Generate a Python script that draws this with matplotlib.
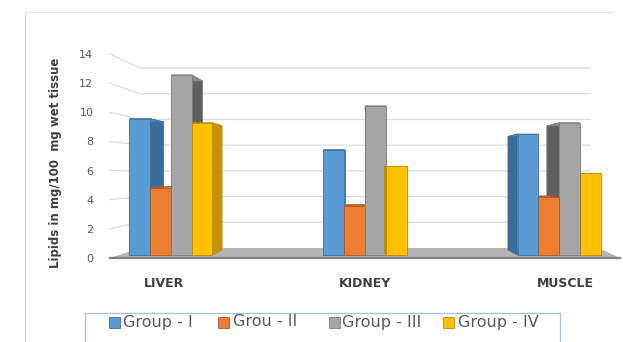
import matplotlib
matplotlib.use('Agg')
import matplotlib.pyplot as plt
from matplotlib.patches import Polygon, Rectangle

# 데이터
organs = ['LIVER', 'KIDNEY', 'MUSCLE']
groups = ['Group - I', 'Grou - II', 'Group - III', 'Group - IV']
group_1 = [9.7, 7.5, 8.6]
group_2 = [4.8, 3.5, 4.1]
group_3 = [12.8, 10.6, 9.4]
group_4 = [9.4, 6.3, 5.8]
y_ticks = [0, 2, 4, 6, 8, 10, 12, 14]

series = [group_1, group_2, group_3, group_4]
front_cols = ['#5b9bd5', '#ed7d31', '#a5a5a5', '#ffc000']
side_cols = ['#3b6b9b', '#b35a1f', '#5f5f5f', '#c29200']
top_cols = ['#4a86c0', '#c9621f', '#8c8c8c', '#d9a400']
edge_cols = ['#41719c', '#ae5a21', '#7b7b7b', '#bc8c00']

# 원근 효과 (소실점 = 가운데 카테고리)
XV, YV, K = 1.0, 5.83, 0.118
Z0, Z1 = 0.28, 0.8
X_LO, X_HI = -0.27, 2.27
BAR_W = 0.107


def proj(x, y, z):
    s = 1 - K * z
    return XV + (x - XV) * s, YV + (y - YV) * s


fig = plt.figure(figsize=(6.23, 3.42), dpi=100)
ax = fig.add_axes([110 / 623, 84 / 342, 510 / 623, 204 / 342])
ax.set_xlim(X_LO, X_HI)
ax.set_ylim(0, 14)
for sp in ax.spines.values():
    sp.set_visible(False)

# 벽 격자선
for t in y_ticks[1:]:
    a = proj(X_LO, t, 0)
    b = proj(X_LO, t, 1)
    c = proj(X_HI, t, 1)
    ax.plot([a[0], b[0], c[0]], [a[1], b[1], c[1]], color='#dcdcdc', lw=0.9,
            zorder=1, clip_on=False)

# 바닥
floor = [proj(X_LO, 0, 0), proj(X_HI, 0, 0), proj(X_HI + 0.05, 0, 1), proj(X_LO, 0, 1)]
ax.add_patch(Polygon(floor, closed=True, fc='#b4b4b4', ec='none', zorder=2, clip_on=False))
ax.plot([X_LO, X_HI], [0, 0], color='#7f7f7f', lw=1.6, zorder=2.1, clip_on=False)

# 막대 (옆면, 윗면, 앞면)
for ci in range(len(organs)):
    order = range(len(series))
    if ci > XV:
        order = reversed(list(order))
    for si in order:
        v = series[si][ci]
        x0 = ci + (si - 2) * BAR_W
        x1 = x0 + BAR_W
        zo = 3 + ci * 0.01 + (si if ci <= XV else 4 - si) * 0.001
        # 옆면
        sx = x1 if x1 <= XV else x0
        side = [proj(sx, 0, Z0), proj(sx, v, Z0), proj(sx, v, Z1), proj(sx, 0, Z1)]
        ax.add_patch(Polygon(side, closed=True, fc=side_cols[si], ec=edge_cols[si],
                             lw=0.5, zorder=zo))
        # 윗면
        top = [proj(x0, v, Z0), proj(x1, v, Z0), proj(x1, v, Z1), proj(x0, v, Z1)]
        ax.add_patch(Polygon(top, closed=True, fc=top_cols[si], ec=edge_cols[si],
                             lw=0.5, zorder=zo))
        # 앞면
        fx0, fy0 = proj(x0, 0, Z0)
        fx1, fy1 = proj(x1, v, Z0)
        ax.bar(fx0, fy1 - fy0, width=fx1 - fx0, bottom=fy0, align='edge',
               color=front_cols[si], edgecolor=edge_cols[si], linewidth=0.6,
               zorder=zo + 0.0005)

ax.set_yticks(y_ticks)
ax.set_yticklabels([str(t) for t in y_ticks], fontsize=8, color='#595959')
ax.set_xticks(range(len(organs)))
ax.set_xticklabels(organs, fontsize=9, fontweight='bold', color='#404040')
ax.tick_params(axis='y', length=0, pad=12)
ax.tick_params(axis='x', length=0, pad=14)
ax.set_ylabel('Lipids in mg/100  mg wet tissue', fontsize=8.5, fontweight='bold',
              color='#404040')
ax.yaxis.set_label_coords(-(110 - 62) / 510, (258 - 163) / 204)

# 차트 테두리
fig.add_artist(plt.Line2D([25 / 623, 25 / 623], [0, 1 - 12 / 342], color='#d9d9d9', lw=0.9))
fig.add_artist(plt.Line2D([25 / 623, 612 / 623], [1 - 12 / 342, 1 - 12 / 342],
                          color='#e6e6e6', lw=0.9))

# 범례 (아래쪽이 잘린 상자)
fig.add_artist(Rectangle((85 / 623, -0.02), 475 / 623, (342 - 313) / 342 + 0.02,
                         transform=fig.transFigure, fc='white', ec='#a9c4e0', lw=1.0))
sq_x = [109, 218, 329, 443]
tx_x = [123, 233, 342, 458]
for si, name in enumerate(groups):
    fig.add_artist(Rectangle((sq_x[si] / 623, 1 - 328 / 342), 11 / 623, 11 / 342,
                             transform=fig.transFigure, fc=front_cols[si],
                             ec=edge_cols[si], lw=0.6))
    fig.text(tx_x[si] / 623, 1 - 322 / 342, name, fontsize=11.5, color='#595959',
             va='center', ha='left')

plt.savefig('out.png', dpi=100)
